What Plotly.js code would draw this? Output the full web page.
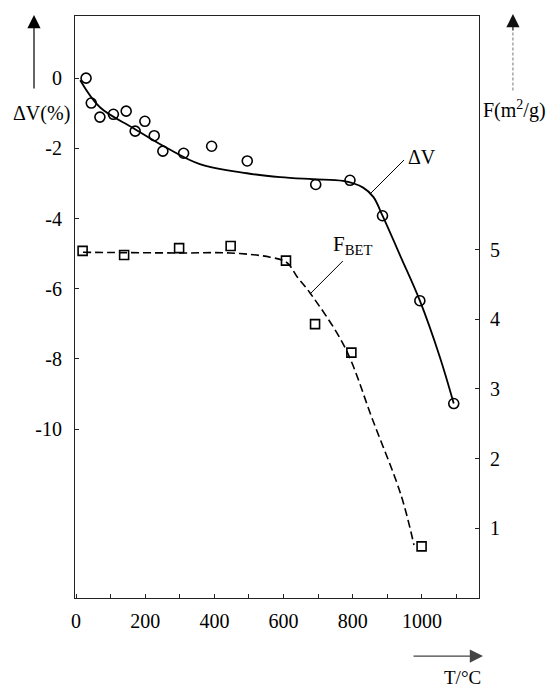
<!DOCTYPE html>
<html>
<head>
<meta charset="utf-8">
<script src="https://cdn.plot.ly/plotly-3.0.1.min.js"></script>
<style>html,body{margin:0;padding:0;background:#fff;}#chart{width:560px;height:688px;}</style>
</head>
<body>
<div id="chart"></div>
<script>
// ΔV measurements (left axis)
var tempDV = [29, 44, 69, 108, 145, 171, 199, 226, 251, 311, 392, 495, 693, 792, 886, 994, 1092];
var deltaV = [0, -0.71, -1.11, -1.03, -0.94, -1.51, -1.23, -1.64, -2.08, -2.14, -1.94, -2.36, -3.03, -2.91, -3.92, -6.34, -9.27];
// ΔV fitted curve
var fitTempDV = [12, 69, 165, 263, 358, 494, 590, 685, 772, 830, 860, 886, 940, 994, 1052, 1092];
var fitDV = [-0.06, -0.83, -1.42, -1.99, -2.45, -2.71, -2.82, -2.88, -2.93, -3.12, -3.39, -3.92, -5.12, -6.34, -7.95, -9.27];
// F_BET measurements (right axis)
var tempF = [19, 139, 298, 447, 607, 691, 796, 999];
var fBET = [4.98, 4.92, 5.02, 5.05, 4.84, 3.93, 3.52, 0.74];
// F_BET fitted curve
var fitTempF = [20, 301, 445, 561, 610, 639, 676, 777, 858, 940, 977];
var fitF = [4.96, 4.95, 4.95, 4.89, 4.81, 4.61, 4.38, 3.60, 2.55, 1.47, 0.76];
// tick labels
var xTickVals = [0, 200, 400, 600, 800, 1000];
var xTickText = ["0", "200", "400", "600", "800", "1000"];
var yTickVals = [0, -2, -4, -6, -8, -10];
var yTickText = ["0", "-2", "-4", "-6", "-8", "-10"];
var y2TickVals = [1, 2, 3, 4, 5];
var y2TickText = ["1", "2", "3", "4", "5"];

var FONT = "'Liberation Serif', 'Times New Roman', serif";
var FS = 20;

var traces = [
  {x: fitTempDV, y: fitDV, mode: "lines", line: {color: "#000", width: 1.8, shape: "spline", smoothing: 1}, yaxis: "y", hoverinfo: "skip"},
  {x: fitTempF, y: fitF, mode: "lines", line: {color: "#000", width: 1.6, shape: "spline", smoothing: 1, dash: "8px,4px"}, yaxis: "y2", hoverinfo: "skip"},
  {x: tempDV, y: deltaV, mode: "markers", marker: {symbol: "circle-open", size: 10, color: "#000", line: {width: 1.6, color: "#000"}}, yaxis: "y"},
  {x: tempF, y: fBET, mode: "markers", marker: {symbol: "square-open", size: 9, color: "#000", line: {width: 1.6, color: "#000"}}, yaxis: "y2"}
];

function txt(x, y, s, size, xa) {
  return {xref: "paper", yref: "paper", x: x, y: y, xanchor: xa || "center", yanchor: "middle",
          showarrow: false, text: s, font: {family: FONT, size: size || FS, color: "#000"}};
}

var layout = {
  width: 560, height: 688,
  margin: {l: 75, r: 81, t: 16, b: 90},
  paper_bgcolor: "#fff", plot_bgcolor: "#fff",
  showlegend: false,
  font: {family: FONT, size: FS, color: "#000"},
  xaxis: {
    range: [-3, 1165], showgrid: false, zeroline: false,
    showline: true, linecolor: "#222", linewidth: 1, mirror: true,
    tickmode: "array", tickvals: xTickVals, ticktext: xTickText,
    ticks: "inside", ticklen: 4, tickcolor: "#222", ticklabelstandoff: 5,
    minor: {tickmode: "array", tickvals: [100, 300, 500, 700, 900, 1100], ticks: "inside", ticklen: 4, tickcolor: "#222"},
    tickfont: {family: FONT, size: FS, color: "#000"}
  },
  yaxis: {
    range: [-14.81, 1.77], showgrid: false, zeroline: false,
    showline: true, linecolor: "#222", linewidth: 1,
    tickmode: "array", tickvals: yTickVals, ticktext: yTickText,
    ticks: "inside", ticklen: 4, tickcolor: "#222", ticklabelstandoff: 8,
    tickfont: {family: FONT, size: FS, color: "#000"}
  },
  yaxis2: {
    overlaying: "y", side: "right",
    range: [0, 8.35], showgrid: false, zeroline: false,
    showline: true, linecolor: "#222", linewidth: 1,
    tickmode: "array", tickvals: y2TickVals, ticktext: y2TickText,
    ticks: "inside", ticklen: 4, tickcolor: "#222", ticklabelstandoff: 6,
    tickfont: {family: FONT, size: FS, color: "#000"}
  },
  shapes: [
    {type: "line", xref: "paper", yref: "paper", x0: 0.7327, y0: 0.6959, x1: 0.8144, y1: 0.7526, line: {color: "#000", width: 1}},
    {type: "line", xref: "paper", yref: "paper", x0: 0.584, y0: 0.524, x1: 0.663, y1: 0.579, line: {color: "#000", width: 1}},
    {type: "line", xref: "paper", yref: "paper", x0: 1.084, y0: 0.872, x1: 1.084, y1: 0.975, line: {color: "#777", width: 1, dash: "3px,2px"}}
  ],
  annotations: [
    {xref: "paper", yref: "paper", x: -0.1015, y: 1.0017, ax: 0, ay: 75, showarrow: true, arrowhead: 2, arrowsize: 2.2, arrowwidth: 1.2, arrowcolor: "#000", text: ""},
    {xref: "paper", yref: "paper", x: 1.084, y: 1.0034, ax: 0, ay: 18, showarrow: true, arrowhead: 2, arrowsize: 2.2, arrowwidth: 1.2, arrowcolor: "#111", text: ""},
    {xref: "paper", yref: "paper", x: 1.0099, y: -0.0997, ax: -71, ay: 0, showarrow: true, arrowhead: 2, arrowsize: 2.2, arrowwidth: 1.2, arrowcolor: "#444", text: ""},
    txt(-0.084, 0.8333, "ΔV(%)"),
    txt(1.089, 0.8385, "F(m<sup>2</sup>/g)"),
    txt(0.960, -0.136, "T/°C", 19),
    txt(0.859, 0.7577, "ΔV"),
    txt(0.634, 0.607, "F<sub>BET</sub>", 21, "left")
  ]
};

Plotly.newPlot("chart", traces, layout, {staticPlot: true, displayModeBar: false});
</script>
</body>
</html>
